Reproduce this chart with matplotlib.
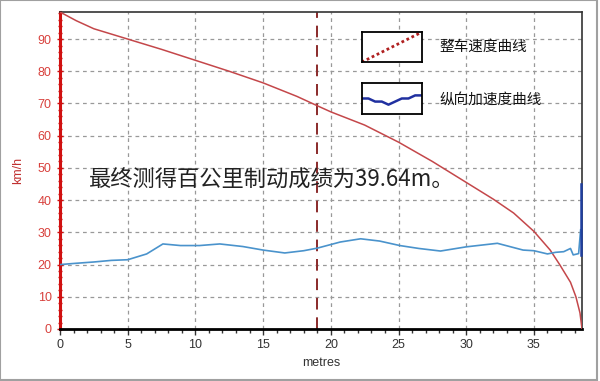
import matplotlib
matplotlib.use("Agg")
import matplotlib.pyplot as plt
from matplotlib.ticker import MultipleLocator
from matplotlib.patches import Rectangle

# speed curve (km/h) against distance (m)
speed_x = [0, 1.2, 2.5, 5, 7.5, 10, 12.5, 15, 17.5, 19, 20, 22.5, 25, 27.5, 30, 32,
           33.5, 35, 36.2, 36.9, 37.7, 38.1, 38.4, 38.55]
speed_y = [98.4, 95.7, 93.2, 90, 86.8, 83.4, 80, 76.4, 72.2, 69.3, 67.4, 63.3, 58, 52, 45.5, 40.3,
           36, 30.3, 24.5, 20, 14.5, 10, 5, 0]

# longitudinal deceleration curve
acc_x = [0, 1.2, 2.5, 3.8, 5, 6.4, 7.6, 8.9, 10.3, 11.8, 13.5, 15, 16.6, 18, 19, 20.7, 22.2,
         23.6, 25.1, 26.5, 28.1, 30, 32.3, 34.2, 35, 36, 36.6, 37.2, 37.7, 37.9, 38.3, 38.45]
acc_y = [20, 20.4, 20.8, 21.3, 21.5, 23.3, 26.4, 25.9, 25.9, 26.4, 25.6, 24.5, 23.6, 24.3, 25.1,
         27, 28, 27.3, 25.9, 25, 24.2, 25.5, 26.6, 24.5, 24.3, 23.3, 23.8, 24, 25, 23, 23.4, 30.8]
end_x = [38.5, 38.5]
end_y = [23, 45]

marker_x = 19
legend_labels = ["整车速度曲线", "纵向加速度曲线"]
note = "最终测得百公里制动成绩为39.64m。"

red = "#c4474a"
blue = "#4a93cc"
cjk = ["Noto Sans CJK SC", "DejaVu Sans"]

fig = plt.figure(figsize=(6, 3.81), dpi=100)
ax = fig.add_axes([0.1, 0.1365, 0.87, 0.832])

ax.plot(speed_x, speed_y, color=red, lw=1.1, zorder=3)
ax.plot(acc_x, acc_y, color=blue, lw=1.2, zorder=3)
ax.plot(end_x, end_y, color="#1f3fa0", lw=1.8, zorder=3, clip_on=False)
ax.axvline(marker_x, color="#8a2a2a", lw=1.4, ls=(0, (6, 4)), zorder=2)

ax.set_xlim(0, 38.55)
ax.set_ylim(0, 98.4)
ax.xaxis.set_major_locator(MultipleLocator(5))
ax.xaxis.set_minor_locator(MultipleLocator(1))
ax.yaxis.set_major_locator(MultipleLocator(10))
ax.yaxis.set_minor_locator(MultipleLocator(2))
ax.grid(True, which="major", color="#999999", ls=(0, (3, 3)), lw=0.9)

ax.spines["left"].set_color("#d01010")
ax.spines["left"].set_linewidth(2.2)
ax.spines["bottom"].set_color("black")
ax.spines["bottom"].set_linewidth(2)
for s in ("top", "right"):
    ax.spines[s].set_color("#333333")
    ax.spines[s].set_linewidth(1.2)

ax.tick_params(axis="x", which="both", direction="out", colors="#333333",
               labelsize=9, length=4, width=1)
ax.tick_params(axis="x", which="minor", length=3)
ax.tick_params(axis="y", which="both", direction="inout", color="#d01010",
               labelcolor="#d8403c", labelsize=9, length=5, width=1)
ax.tick_params(axis="y", which="minor", length=3)
for lab in ax.get_xticklabels() + ax.get_yticklabels():
    lab.set_family("Liberation Sans")

ax.set_xlabel("metres", fontsize=9, color="#333333", family="Liberation Sans", labelpad=4)
ax.set_ylabel("km/h", fontsize=9, color="#c03030", family="Liberation Sans", labelpad=10)

ax.text(0.055, 0.47, note, transform=ax.transAxes, fontsize=16, color="#222222",
        family=cjk, va="center", ha="left", zorder=4)

# legend swatches
sw1 = fig.add_axes([0.603, 0.837, 0.1, 0.0787])
sw1.plot([0, 1], [0, 1], color="#b02020", lw=2, ls=(0, (1, 1)))
sw1.set_xlim(0, 1)
sw1.set_ylim(0, 1)
sw2 = fig.add_axes([0.603, 0.701, 0.1, 0.081])
swatch_y = [0.5, 0.5, 0.4, 0.4, 0.3, 0.4, 0.5, 0.5, 0.6, 0.6]
sw2.plot(range(len(swatch_y)), swatch_y, color="#2030a0", lw=1.8)
sw2.set_xlim(0, len(swatch_y) - 1)
sw2.set_ylim(0, 1)
for sw in (sw1, sw2):
    sw.set_xticks([])
    sw.set_yticks([])
    for s in sw.spines.values():
        s.set_linewidth(1.3)
        s.set_color("black")

fig.text(0.732, 0.877, legend_labels[0], fontsize=10.5, va="center", ha="left",
         family=cjk, color="#111111")
fig.text(0.732, 0.738, legend_labels[1], fontsize=10.5, va="center", ha="left",
         family=cjk, color="#111111")

# image border
fig.patches.append(Rectangle((0, 0.003), 0.995, 0.997, transform=fig.transFigure,
                             fill=False, edgecolor="#a0a0a0", lw=1.5))

fig.savefig("out.png", dpi=100)
